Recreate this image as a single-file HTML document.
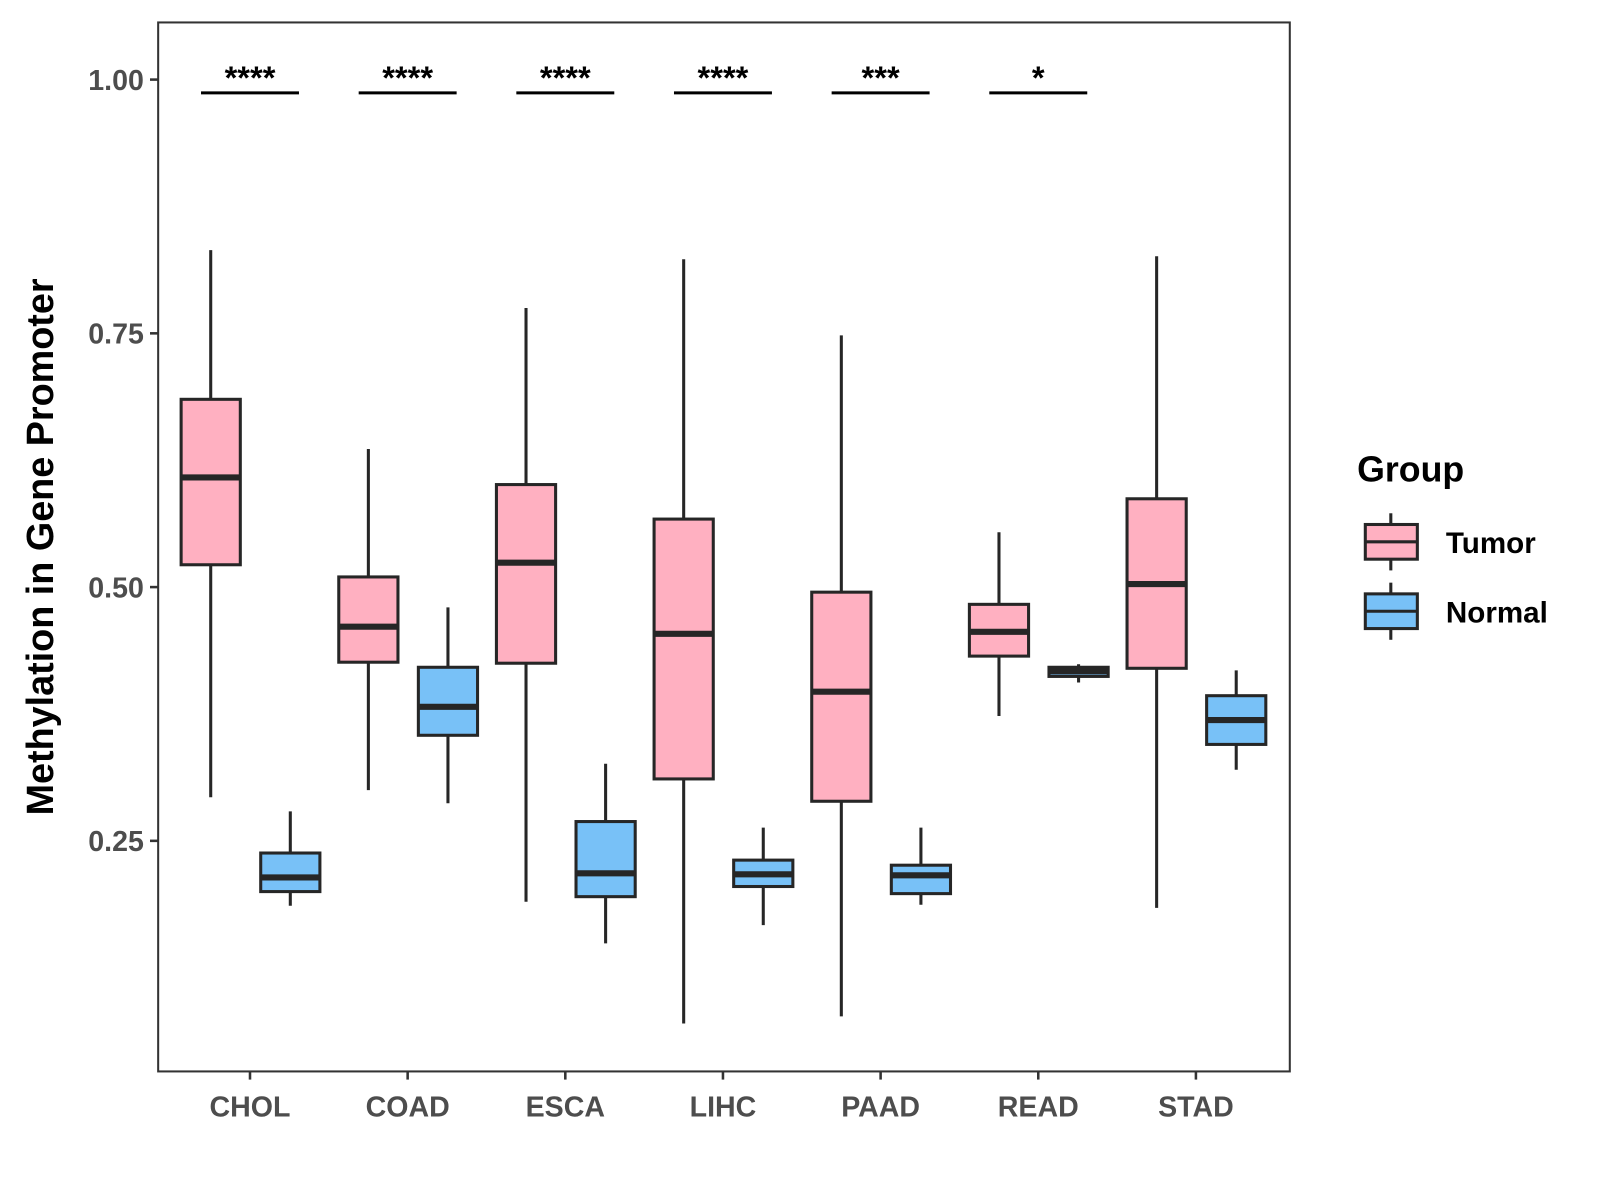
<!DOCTYPE html>
<html><head><meta charset="utf-8"><style>
html,body{margin:0;padding:0;background:#fff;}
svg{display:block;font-family:"Liberation Sans",Arial,sans-serif;font-weight:bold;}
</style></head><body>
<svg id="chart" width="1600" height="1200" viewBox="0 0 1568 1176" xmlns="http://www.w3.org/2000/svg">
<rect x="0" y="0" width="1568" height="1176" fill="#fff"/>
<g id="plot"></g>
<text x="0" y="0" transform="translate(52,536) rotate(-90)" text-anchor="middle" font-size="37" fill="#000">Methylation in Gene Promoter</text>
<g>
<text x="1330" y="472" font-size="35" fill="#000">Group</text>
<g>
<line x1="1363" y1="503" x2="1363" y2="559" stroke="#262626" stroke-width="3"/>
<rect x="1338" y="514" width="51" height="34" fill="#FFB0C1" stroke="#262626" stroke-width="3"/>
<line x1="1338" y1="531" x2="1389" y2="531" stroke="#262626" stroke-width="3"/>
<text x="1417" y="542" font-size="29" fill="#000">Tumor</text>
</g>
<g>
<line x1="1363" y1="571" x2="1363" y2="627" stroke="#262626" stroke-width="3"/>
<rect x="1338" y="582" width="51" height="34" fill="#78C1F7" stroke="#262626" stroke-width="3"/>
<line x1="1338" y1="599" x2="1389" y2="599" stroke="#262626" stroke-width="3"/>
<text x="1417" y="610" font-size="29" fill="#000">Normal</text>
</g>
</g>
</svg>
<script>
const categories = ["CHOL","COAD","ESCA","LIHC","PAAD","READ","STAD"];
// [whiskerLow, Q1, median, Q3, whiskerHigh]
const tumorStats = [
 [0.293,0.522,0.608,0.685,0.832],
 [0.300,0.426,0.461,0.510,0.636],
 [0.190,0.425,0.524,0.601,0.775],
 [0.070,0.311,0.454,0.567,0.823],
 [0.077,0.289,0.397,0.495,0.748],
 [0.373,0.432,0.456,0.483,0.554],
 [0.184,0.420,0.503,0.587,0.826]
];
const normalStats = [
 [0.186,0.200,0.214,0.238,0.279],
 [0.287,0.354,0.382,0.421,0.480],
 [0.149,0.195,0.218,0.269,0.326],
 [0.167,0.205,0.217,0.231,0.263],
 [0.187,0.198,0.216,0.226,0.263],
 [0.406,0.412,0.417,0.421,0.424],
 [0.320,0.345,0.369,0.393,0.418]
];
const sigLabels = ["****","****","****","****","***","*",""];
const yTicks = [0.25,0.50,0.75,1.00];
const yTickLabels = ["0.25","0.50","0.75","1.00"];

const NS="http://www.w3.org/2000/svg";
const P={l:155,r:1264,t:22,b:1050};
function yScale(v){return 78+(1-v)*994.7;}
function xScale(i){return 245+i*154.5;}
const g=document.getElementById('plot');
function el(tag,attrs,parent){const e=document.createElementNS(NS,tag);for(const k in attrs)e.setAttribute(k,attrs[k]);(parent||g).appendChild(e);return e;}

yTicks.forEach((v,i)=>{
 const y=yScale(v);
 const t=el('line',{x1:P.l-8,x2:P.l,y1:y,y2:y,stroke:'#333','stroke-width':2.5});
 
 
 const tx=el('text',{x:P.l-14,y:y+10,'text-anchor':'end','font-size':28,fill:'#4d4d4d'});
 tx.textContent=yTickLabels[i];
 
 
});
categories.forEach((c,i)=>{
 const x=xScale(i);
 const t=el('line',{x1:x,x2:x,y1:P.b,y2:P.b+8,stroke:'#333','stroke-width':2.5});
 
 
 const tx=el('text',{x:x,y:P.b+44,'text-anchor':'middle','font-size':28,fill:'#4d4d4d'});
 tx.textContent=c;
 
 
});

function drawBox(s,cx,fill,name){
 const w=58;
 const grp=el('g',{});
 
 
 el('line',{x1:cx,x2:cx,y1:yScale(s[0]),y2:yScale(s[4]),stroke:'#262626','stroke-width':3},grp);
 el('rect',{x:cx-w/2,y:yScale(s[3]),width:w,height:yScale(s[1])-yScale(s[3]),fill:fill,stroke:'#262626','stroke-width':3},grp);
 el('line',{x1:cx-w/2,x2:cx+w/2,y1:yScale(s[2]),y2:yScale(s[2]),stroke:'#262626','stroke-width':6},grp);
}
categories.forEach((c,i)=>{
 const x=xScale(i);
 drawBox(tumorStats[i],x-38.5,'#FFB0C1','box-tumor-'+c.toLowerCase());
 drawBox(normalStats[i],x+39.5,'#78C1F7','box-normal-'+c.toLowerCase());
 if(sigLabels[i]){
  const l=el('line',{x1:x-48,x2:x+48,y1:91,y2:91,stroke:'#000','stroke-width':3});
  
  
  const t=el('text',{x:x,y:87,'text-anchor':'middle','font-size':32,fill:'#000'});
  t.textContent=sigLabels[i];
  
  
 }
});
const frame=el('rect',{x:P.l,y:P.t,width:P.r-P.l,height:P.b-P.t,fill:'none',stroke:'#333','stroke-width':2});


</script>
</body></html>
